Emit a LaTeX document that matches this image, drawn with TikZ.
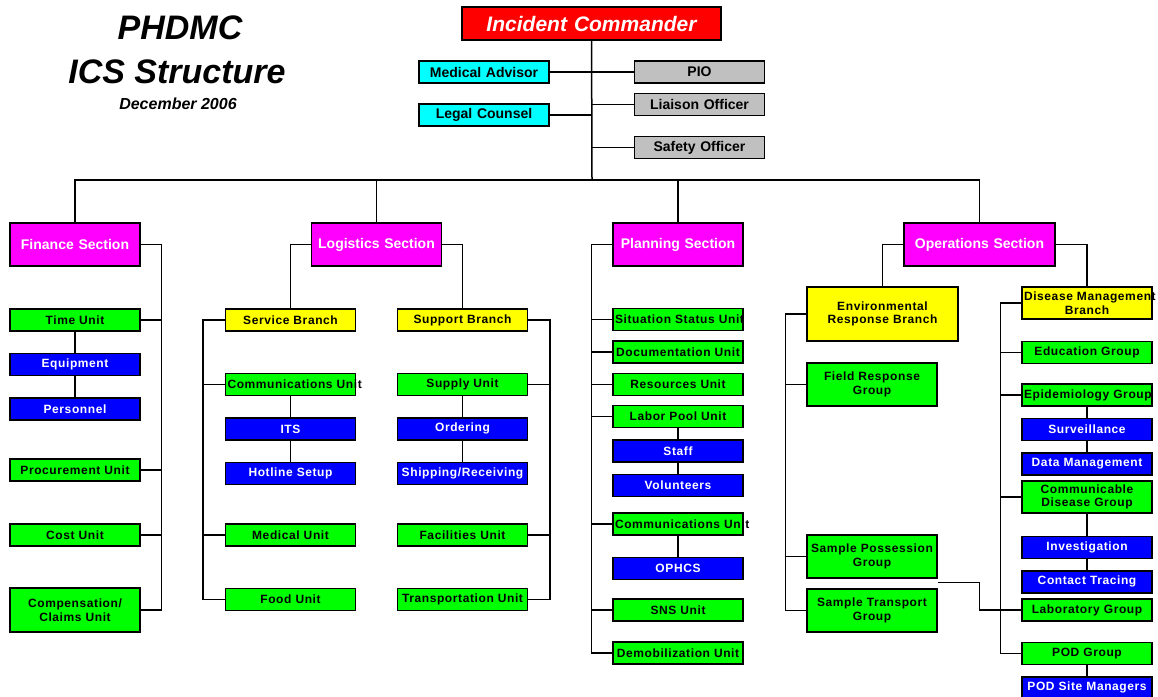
\documentclass[tikz,border=0pt]{standalone}
\usepackage{fontspec}
\setmainfont{Liberation Sans}
\newfontfamily\unitfont[LetterSpace=5]{Liberation Sans}
\usetikzlibrary{positioning,calc}
\definecolor{icsred}{RGB}{255,0,0}
\definecolor{icsmag}{RGB}{255,0,255}
\definecolor{icsgreen}{RGB}{0,255,0}
\definecolor{icsblue}{RGB}{0,0,255}
\definecolor{icsyellow}{RGB}{255,255,0}
\definecolor{icscyan}{RGB}{0,255,255}
\definecolor{icsgray}{RGB}{192,192,192}
\tikzset{
  orgbox/.style={draw=black, line width=1.4pt, inner xsep=2pt, inner ysep=1pt,
    minimum height=22pt, text width=126pt, align=center},
  unitbox/.style={orgbox, fill=icsgreen, font=\unitfont\bfseries\fontsize{12}{13.5}\selectfont},
  subbox/.style={orgbox, fill=icsblue, text=white, font=\unitfont\bfseries\fontsize{12}{13.5}\selectfont},
  branchbox/.style={orgbox, fill=icsyellow, font=\unitfont\bfseries\fontsize{12}{13.5}\selectfont},
  sectbox/.style={orgbox, fill=icsmag, text=white, minimum height=43pt, font=\bfseries\fontsize{14}{16}\selectfont},
  advbox/.style={orgbox, fill=icscyan, font=\bfseries\fontsize{14}{16}\selectfont},
  offbox/.style={orgbox, fill=icsgray, font=\bfseries\fontsize{14}{16}\selectfont},
  cmdbox/.style={orgbox, fill=icsred, text=white, text width=255pt, minimum height=33pt,
    font=\bfseries\itshape\fontsize{21}{24}\selectfont},
  titletext/.style={inner sep=0pt, font=\bfseries\itshape\fontsize{34}{38}\selectfont},
  datetext/.style={inner sep=0pt, font=\bfseries\itshape\fontsize{16}{18}\selectfont},
}
\begin{document}
\begin{tikzpicture}[x=1pt,y=-1pt,line width=1.5pt]
\useasboundingbox (0,0) rectangle (1158,696);

% title
\node[titletext] (ttl1) at (180,28) {PHDMC};
\node[titletext] (ttl2) at (177,72) {ICS Structure};
\node[datetext] (ttl3) at (178,104) {December 2006};

% command staff
\node[cmdbox] (ic) at (591.5,23.5) {Incident Commander};
\node[advbox] (medadv) at (484,72) {Medical Advisor};
\node[advbox] (legal) at (484,115) {Legal Counsel};
\node[offbox] (pio) at (699.5,72) {PIO};
\node[offbox] (liaison) at (699.5,104.5) {Liaison Officer};
\node[offbox] (safety) at (699.5,147.5) {Safety Officer};
\coordinate (bus) at (592,180);

% sections
\node[sectbox] (fin) at (75,244.5) {Finance Section};
\node[sectbox] (log) at (376.5,244.5) {Logistics Section};
\node[sectbox] (plan) at (678,244.5) {Planning Section};
\node[sectbox, text width=147pt] (ops) at (979.5,244.5) {Operations Section};

% finance
\node[unitbox] (time) at (75,320) {Time Unit};
\node[subbox, below=21pt of time] (equip) {Equipment};
\node[subbox, below=21pt of equip] (pers) {Personnel};
\node[unitbox] (proc) at (75,470) {Procurement Unit};
\node[unitbox] (cost) at (75,535) {Cost Unit};
\node[unitbox, minimum height=44pt] (comp) at (75,610) {Compensation/\\Claims Unit};

% logistics
\node[branchbox] (service) at (290.5,320) {Service Branch};
\node[branchbox] (support) at (462.5,320) {Support Branch};
\node[unitbox] (lcomm) at (290.5,384.5) {\mbox{Communications Unit}};
\node[subbox, below=21pt of lcomm] (its) {ITS};
\node[subbox, below=21pt of its] (hotline) {Hotline Setup};
\node[unitbox] (medical) at (290.5,535) {Medical Unit};
\node[unitbox] (food) at (290.5,599.5) {Food Unit};
\node[unitbox] (supply) at (462.5,384.5) {Supply Unit};
\node[subbox, below=21pt of supply] (ordering) {Ordering};
\node[subbox, below=21pt of ordering] (shipping) {\mbox{Shipping/Receiving}};
\node[unitbox] (facil) at (462.5,535) {Facilities Unit};
\node[unitbox] (transp) at (462.5,599.5) {\mbox{Transportation Unit}};

% planning
\node[unitbox] (sitstat) at (678,319.5) {\mbox{Situation Status Unit}};
\node[unitbox] (docu) at (678,352) {\mbox{Documentation Unit}};
\node[unitbox] (resrc) at (678,384.5) {Resources Unit};
\node[unitbox] (labor) at (678,416.5) {Labor Pool Unit};
\node[subbox, below=11pt of labor] (staff) {Staff};
\node[subbox, below=11pt of staff] (volun) {Volunteers};
\node[unitbox] (pcomm) at (678,524) {\mbox{Communications Unit}};
\node[subbox, below=21pt of pcomm] (ophcs) {OPHCS};
\node[unitbox] (sns) at (678,610) {SNS Unit};
\node[unitbox] (demob) at (678,653) {\mbox{Demobilization Unit}};

% operations
\node[branchbox, text width=147pt, minimum height=54pt] (envbr) at (882.5,314) {Environmental\\Response Branch};
\node[unitbox, minimum height=43pt] (field) at (872,384.5) {Field Response\\Group};
\node[unitbox, minimum height=43pt] (sposs) at (872,556.5) {\mbox{Sample Possession}\\Group};
\node[unitbox, minimum height=43pt] (strans) at (872,610.5) {Sample Transport\\Group};
\node[branchbox, minimum height=32pt] (dmbr) at (1087,303) {\mbox{Disease Management}\\Branch};
\node[unitbox] (educ) at (1087,352.5) {Education Group};
\node[unitbox] (epid) at (1087,395) {\mbox{Epidemiology Group}};
\node[subbox, below=11pt of epid] (surv) {Surveillance};
\node[subbox, below=11pt of surv] (datam) {Data Management};
\node[unitbox, minimum height=32pt] (commd) at (1087,497) {Communicable\\Disease Group};
\node[subbox, below=22pt of commd] (invest) {Investigation};
\node[subbox, below=11pt of invest] (contact) {Contact Tracing};
\node[unitbox] (lab) at (1087,610) {Laboratory Group};
\node[unitbox] (pod) at (1087,653.5) {POD Group};
\node[subbox, below=11pt of pod] (podsite) {\mbox{POD Site Managers}};

% command links
\draw (ic) -- (bus);
\draw (fin.north) |- (bus) -| (ops.north);
\draw (log.north) -- (log.north |- bus);
\draw (plan.north) -- (plan.north |- bus);
\draw (medadv) -- (pio);
\draw (legal) -- (legal -| bus);
\draw (liaison) -- (liaison -| bus);
\draw (safety) -- (safety -| bus);

% finance links
\coordinate (finbar) at ($(fin.east)+(21,0)$);
\draw (fin.east) -- (finbar) |- (comp.east);
\draw (time) -- (time -| finbar);
\draw (proc) -- (proc -| finbar);
\draw (cost) -- (cost -| finbar);
\draw (time) -- (equip) -- (pers);

% logistics links
\draw (log.west) -| (service.north);
\draw (log.east) -| (support.north);
\coordinate (servbar) at ($(service.west)+(-22,0)$);
\draw (service.west) -- (servbar) |- (food.west);
\draw (lcomm) -- (lcomm -| servbar);
\draw (medical) -- (medical -| servbar);
\coordinate (suppbar) at ($(support.east)+(22,0)$);
\draw (support.east) -- (suppbar) |- (transp.east);
\draw (supply) -- (supply -| suppbar);
\draw (facil) -- (facil -| suppbar);
\draw (lcomm) -- (its) -- (hotline);
\draw (supply) -- (ordering) -- (shipping);

% planning links
\coordinate (planbar) at ($(plan.west)+(-21,0)$);
\draw (plan.west) -- (planbar) |- (demob.west);
\draw (sitstat) -- (sitstat -| planbar);
\draw (docu) -- (docu -| planbar);
\draw (resrc) -- (resrc -| planbar);
\draw (labor) -- (labor -| planbar);
\draw (pcomm) -- (pcomm -| planbar);
\draw (sns) -- (sns -| planbar);
\draw (labor) -- (staff) -- (volun);
\draw (pcomm) -- (ophcs);

% operations links
\draw (ops.west) -| (envbr.north);
\draw (ops.east) -| (dmbr.north);
\coordinate (envbar) at ($(envbr.west)+(-21,0)$);
\draw (envbr.west) -- (envbar) |- (strans.west);
\draw (field) -- (field -| envbar);
\draw (sposs) -- (sposs -| envbar);
\coordinate (dmbar) at ($(dmbr.west)+(-21,0)$);
\draw (dmbr.west) -- (dmbar) |- (pod.west);
\draw (educ) -- (educ -| dmbar);
\draw (epid) -- (epid -| dmbar);
\draw (commd) -- (commd -| dmbar);
\draw (lab) -- (lab -| dmbar);
\draw (epid) -- (surv) -- (datam);
\draw (commd) -- (invest) -- (contact);
\draw (pod) -- (podsite);
\draw ([yshift=6pt]strans.north east) -| ([xshift=-42pt]lab.west) -- (lab.west);

\end{tikzpicture}
\end{document}
